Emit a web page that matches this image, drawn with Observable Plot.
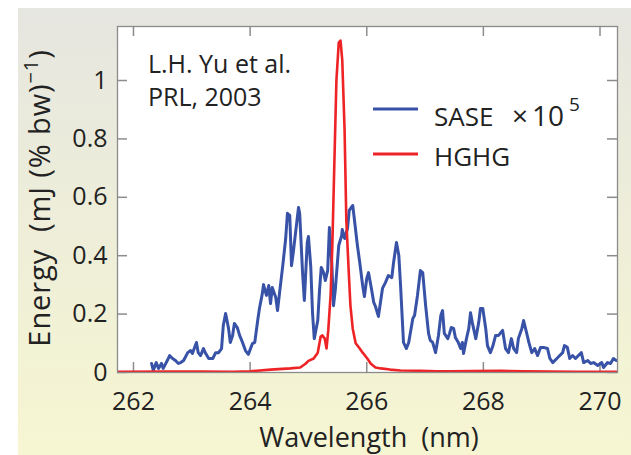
<!DOCTYPE html>
<html><head><meta charset="utf-8">
<script src="https://cdn.jsdelivr.net/npm/d3@7"></script>
<script src="https://cdn.jsdelivr.net/npm/@observablehq/plot@0.6"></script>
<style>
html,body{margin:0;padding:0;background:#fff;}
#wrap{position:relative;width:631px;height:455px;overflow:hidden;}
#bg{position:absolute;left:18px;top:8px;right:0;bottom:0;background:linear-gradient(to bottom,#e6e6e0,#f6f6d2);}
#chart{position:absolute;left:0;top:0;}
svg text{white-space:pre;}
</style></head><body>
<div id="wrap"><div id="bg"></div><div id="chart"></div></div>
<script>
// SASE (x10^5) spectrum
const saseX = [262.31,262.34,262.39,262.43,262.48,262.51,262.58,262.62,262.67,262.72,262.77,262.81,262.86,262.93,262.98,263.01,263.08,263.11,263.15,263.20,263.23,263.29,263.36,263.41,263.46,263.51,263.54,263.58,263.63,263.66,263.70,263.73,263.78,263.82,263.87,263.92,263.97,264.04,264.08,264.13,264.16,264.21,264.23,264.28,264.32,264.35,264.38,264.44,264.47,264.50,264.56,264.61,264.64,264.68,264.71,264.74,264.80,264.83,264.85,264.90,264.93,264.98,265.00,265.04,265.07,265.10,265.16,265.19,265.22,265.26,265.29,265.33,265.36,265.40,265.43,265.46,265.52,265.57,265.58,265.62,265.67,265.70,265.76,265.79,265.84,265.88,265.93,265.96,266.00,266.03,266.08,266.12,266.15,266.20,266.27,266.32,266.37,266.43,266.46,266.51,266.55,266.58,266.63,266.68,266.72,266.79,266.82,266.87,266.92,266.96,267.01,267.06,267.09,267.13,267.18,267.23,267.27,267.30,267.33,267.39,267.42,267.45,267.49,267.52,267.57,267.61,267.64,267.66,267.71,267.75,267.78,267.81,267.87,267.92,267.95,267.99,268.04,268.07,268.12,268.16,268.21,268.26,268.33,268.38,268.43,268.48,268.52,268.57,268.60,268.66,268.69,268.74,268.78,268.83,268.88,268.93,268.98,269.03,269.10,269.14,269.19,269.26,269.31,269.36,269.39,269.44,269.48,269.53,269.58,269.63,269.68,269.72,269.79,269.84,269.89,269.96,270.03,270.06,270.13,270.18,270.23,270.28];
const saseY = [0.031,0.007,0.034,0.014,0.031,0.014,0.041,0.058,0.048,0.041,0.031,0.034,0.041,0.068,0.075,0.065,0.103,0.068,0.058,0.082,0.068,0.048,0.048,0.068,0.068,0.082,0.161,0.202,0.151,0.103,0.127,0.168,0.154,0.127,0.103,0.075,0.062,0.099,0.103,0.178,0.219,0.271,0.301,0.264,0.298,0.236,0.291,0.257,0.212,0.264,0.366,0.459,0.545,0.538,0.366,0.411,0.514,0.565,0.545,0.339,0.247,0.445,0.466,0.363,0.205,0.116,0.178,0.281,0.360,0.342,0.315,0.349,0.497,0.377,0.229,0.281,0.435,0.469,0.490,0.459,0.493,0.555,0.572,0.521,0.435,0.377,0.298,0.260,0.322,0.342,0.288,0.240,0.226,0.192,0.288,0.308,0.332,0.325,0.377,0.445,0.401,0.298,0.103,0.082,0.103,0.185,0.195,0.264,0.349,0.342,0.229,0.134,0.110,0.103,0.068,0.127,0.195,0.212,0.134,0.116,0.134,0.154,0.151,0.120,0.103,0.082,0.103,0.065,0.116,0.151,0.205,0.171,0.116,0.171,0.219,0.219,0.151,0.092,0.068,0.089,0.127,0.127,0.144,0.082,0.068,0.116,0.082,0.068,0.116,0.151,0.178,0.137,0.103,0.068,0.082,0.058,0.086,0.086,0.082,0.048,0.034,0.048,0.058,0.068,0.092,0.086,0.048,0.058,0.048,0.058,0.068,0.034,0.041,0.031,0.034,0.024,0.034,0.017,0.034,0.031,0.048,0.041];
// HGHG spectrum
const hghgX = [261.73,262.5,263.15,263.7,264.0,264.35,264.69,264.86,264.95,265.0,265.09,265.16,265.21,265.24,265.28,265.31,265.34,265.38,265.41,265.45,265.48,265.52,265.55,265.58,265.62,265.65,265.69,265.72,265.76,265.81,265.88,265.93,266.01,266.07,266.15,266.24,266.4,266.58,266.92,267.2,267.44,267.8,268.3,268.7,269.15,269.6,270.0,270.31];
const hghgY = [0.002,0.003,0.003,0.002,0.004,0.01,0.014,0.017,0.03,0.04,0.048,0.068,0.123,0.127,0.116,0.082,0.144,0.264,0.435,0.76,1.0,1.13,1.137,1.07,0.83,0.52,0.35,0.23,0.15,0.10,0.082,0.068,0.048,0.03,0.017,0.014,0.01,0.007,0.006,0.004,0.004,0.005,0.006,0.004,0.003,0.002,0.002,0.002];

const xTicks = [262,264,266,268,270];
const yTicks = [0,0.2,0.4,0.6,0.8,1];
const yTickLabels = ["0","0.2","0.4","0.6","0.8","1"];
const seriesNames = ["SASE", "HGHG"];
const xDomain = [261.726, 270.30];
const yDomain = [0, 1.185];

const BLUE = "#3752a6", RED = "#ee2326", GRAY = "#8c8c8c";
const W = 631, H = 455, mL = 117, mR = 14, mT = 26, mB = 83;
const pw = W - mL - mR, ph = H - mT - mB;

const sase = saseX.map((x, i) => ({x, y: saseY[i]}));
const hghg = hghgX.map((x, i) => ({x, y: hghgY[i]}));

const svg = Plot.plot({
  width: W, height: H,
  marginLeft: mL, marginRight: mR, marginTop: mT, marginBottom: mB,
  style: {fontFamily: "'Open Sans', sans-serif", fontSize: "25px", color: "#222", background: "transparent", overflow: "visible"},
  x: {domain: xDomain},
  y: {domain: yDomain},
  marks: [
    Plot.frame({fill: "white", stroke: "none"}),
    Plot.tickX(xTicks, {x: d => d, insetTop: ph - 10, stroke: GRAY, strokeWidth: 1.5}),
    Plot.tickX(xTicks, {x: d => d, insetBottom: ph - 10, stroke: GRAY, strokeWidth: 1.5}),
    Plot.tickY(yTicks, {y: d => d, insetRight: pw - 10, stroke: GRAY, strokeWidth: 1.5}),
    Plot.tickY(yTicks, {y: d => d, insetLeft: pw - 10, stroke: GRAY, strokeWidth: 1.5}),
    Plot.line(sase, {x: "x", y: "y", stroke: BLUE, strokeWidth: 3, clip: true}),
    Plot.line(hghg, {x: "x", y: "y", stroke: RED, strokeWidth: 2.6, clip: true}),
    Plot.frame({stroke: GRAY, strokeWidth: 1.3}),
    Plot.axisX({ticks: xTicks, tickSize: 0, tickPadding: 20, label: null, tickFormat: d => String(d), fill: "#222"}),
    Plot.axisY({ticks: yTicks, tickSize: 0, tickPadding: 10, label: null, tickFormat: d => yTickLabels[yTicks.indexOf(d)], fill: "#222"})
  ]
});
document.getElementById("chart").appendChild(svg);

const s = d3.select(svg);
const FF = "'Open Sans', sans-serif";
function txt(parent, x, y, size, str, anchor) {
  return parent.append("text").attr("x", x).attr("y", y).attr("text-anchor", anchor || "start")
    .attr("font-family", FF).attr("font-size", size).attr("fill", "#222").text(str);
}
// annotation
txt(s, 148, 73, 25, "L.H. Yu et al.");
txt(s, 148, 106, 25, "PRL, 2003");
// legend
const lg = s.append("g");
lg.append("line").attr("x1", 373).attr("x2", 418).attr("y1", 109).attr("y2", 109).attr("stroke", BLUE).attr("stroke-width", 3);
lg.append("line").attr("x1", 373).attr("x2", 418).attr("y1", 154).attr("y2", 154).attr("stroke", RED).attr("stroke-width", 3);
txt(lg, 434, 126, 26, seriesNames[0]);
txt(lg, 512, 126, 28, "\u00d7");
txt(lg, 532, 126, 28, "10");
txt(lg, 569, 111, 19, "5");
txt(lg, 434, 166, 26, seriesNames[1]);
// x title
txt(s, 369, 447, 27, "Wavelength  (nm)", "middle");
// y title
const yt = s.append("text").attr("transform", "translate(50,198) rotate(-90)").attr("text-anchor", "middle")
  .attr("font-family", FF).attr("font-size", 29).attr("letter-spacing", 0.9).attr("fill", "#222");
yt.append("tspan").text("Energy  (mJ (% bw)");
yt.append("tspan").attr("dy", -12).attr("font-size", 20).text("\u22121");
yt.append("tspan").attr("dy", 12).text(")");
</script>
</body></html>
